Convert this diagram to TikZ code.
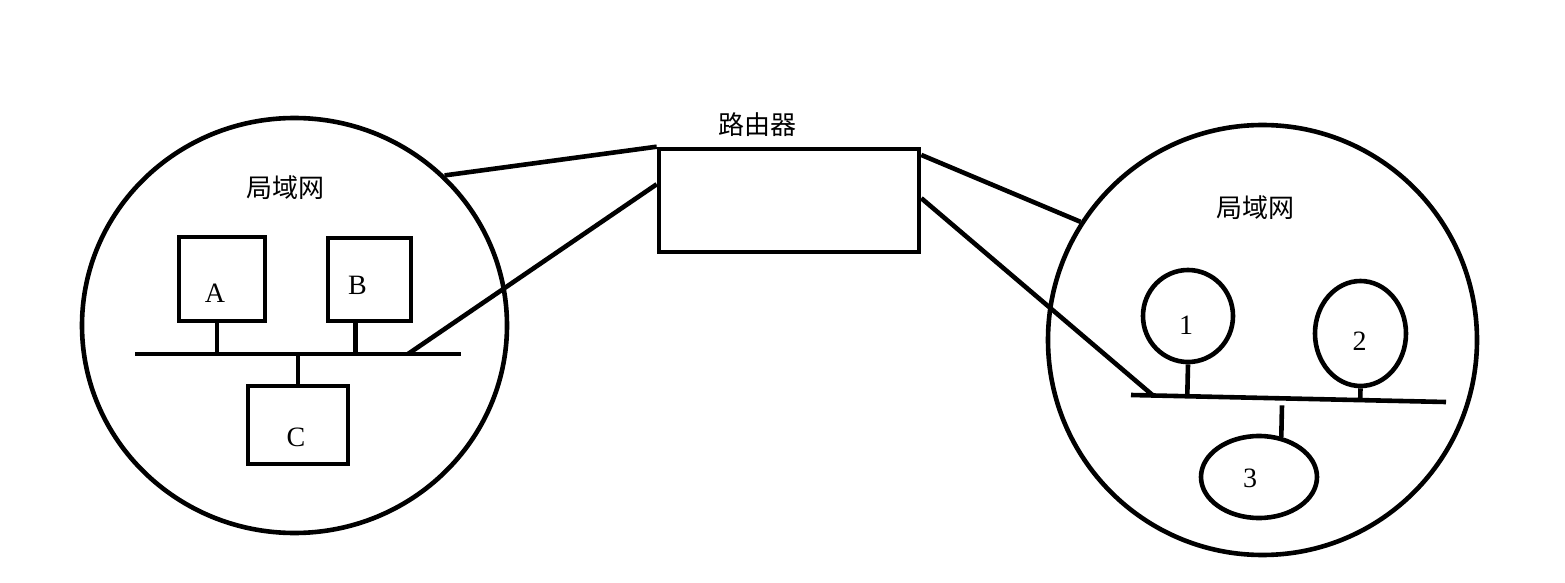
\documentclass[tikz,border=0pt]{standalone}
\usepackage{fontspec}
\setmainfont{Liberation Serif}
\newfontfamily\cjk{Noto Sans CJK SC}
\usepackage{tikz}
\usetikzlibrary{shapes.geometric,calc}

\begin{document}
\begin{tikzpicture}[x=0.5pt,y=-0.5pt,line width=2.3pt,
        lan/.style={draw,ellipse,inner sep=0pt},
        host/.style={draw,rectangle,inner sep=0pt},
        pc/.style={draw,ellipse,inner sep=0pt},
        cn/.style={font=\cjk\fontsize{13}{15}\selectfont},
        every label/.style={font=\fontsize{14}{16}\selectfont}]

  \useasboundingbox (0,0) rectangle (1565,583);

  % left network
  \node[lan,minimum width=212.5pt,minimum height=207.5pt] (lanL) at (294.5,325.5) {};
  \node[cn] (nameL) at (285,188) {局域网};
  \node[host,minimum width=43pt,minimum height=42pt,
        label={[xshift=-3.5pt,yshift=-7pt]center:A}] (a) at (222,279) {};
  \node[host,minimum width=41.5pt,minimum height=41.5pt,
        label={[xshift=-6pt,yshift=-3pt]center:B}] (b) at (369.5,279.5) {};
  \node[host,minimum width=50pt,minimum height=39pt,
        label={[xshift=-1pt,yshift=-6pt]center:C}] (c) at (298,425) {};
  \coordinate (busL1) at (135,354);
  \coordinate (busL2) at (461,354);
  \coordinate (tapL) at (408,354);
  \draw (busL1) -- (busL2);
  \draw ([xshift=-2.5pt]a.south) -- ([xshift=-2.5pt]a.south |- busL1);
  \draw ([xshift=-7pt]b.south) -- ([xshift=-7pt]b.south |- busL1);
  \draw (c.north) -- (c.north |- busL1);

  % router
  \node[host,minimum width=130pt,minimum height=51.5pt] (router) at (789,200.5) {};
  \node[cn] (nameR) at (757,125) {路由器};

  % right network
  \node[lan,minimum width=214.5pt,minimum height=215pt] (lanR) at (1262.5,340) {};
  \node[cn] (nameRR) at (1255,208) {局域网};
  \node[pc,minimum width=45pt,minimum height=46pt,
        label={[xshift=-1pt,yshift=-4.5pt]center:1}] (p1) at (1188,316) {};
  \node[pc,minimum width=45.5pt,minimum height=52.5pt,
        label={[xshift=-0.5pt,yshift=-4pt]center:2}] (p2) at (1360.5,333.5) {};
  \node[pc,minimum width=58pt,minimum height=41pt,
        label={[xshift=-4.5pt,yshift=-0.5pt]center:3}] (p3) at (1259,477) {};
  \coordinate (busR1) at (1131,395);
  \coordinate (busR2) at (1446,402);
  \coordinate (tapR) at (1153,395.5);
  \draw (busR1) -- (busR2);
  \draw (p1.south) -- ($(busR1)!(p1.south)!(busR2)$);
  \draw (p2.south) -- ($(busR1)!(p2.south)!(busR2)$);
  \draw[shorten >=3.5pt] (p3.61) -- ($(busR1)!(p3.61)!(busR2)$);

  % links
  \draw (lanL.45) -- (router.north west);
  \draw (tapL) -- (router.173);
  \draw (router.19) -- (lanR.147);
  \draw (router.1.5) -- (tapR);

\end{tikzpicture}
\end{document}
